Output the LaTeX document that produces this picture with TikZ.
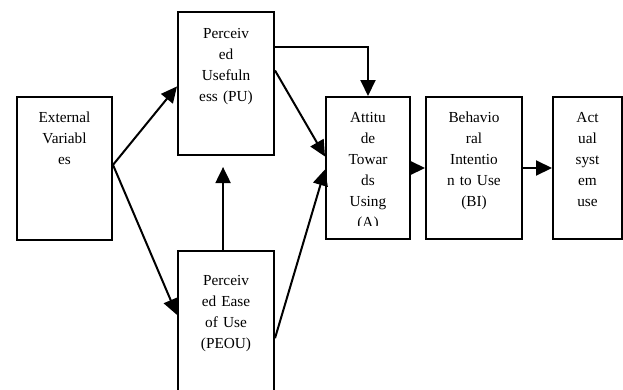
\documentclass[tikz,border=0pt]{standalone}
\usepackage{fontspec}
\setmainfont{Liberation Serif}
\usetikzlibrary{arrows.meta,calc}
\begin{document}
\begin{tikzpicture}[x=1pt,y=-1pt,
  box/.style={draw,line width=2pt,rectangle,inner sep=0pt},
  lbl/.style={anchor=base,align=center,text width=92pt,inner sep=0pt,font=\fontsize{15.3}{21}\selectfont},
  arr/.style={line width=2pt,-{Triangle[length=16pt,width=15pt]}}]
\useasboundingbox (0,0) rectangle (623,389);
\clip (0,0) rectangle (623,389);
% boxes
\node[box,minimum width=95pt,minimum height=143pt] (ext) at (64.5,168.5) {};
\node[box,minimum width=96pt,minimum height=143pt] (pu) at (226,83.5) {};
\node[box,minimum width=96pt,minimum height=149pt] (peou) at (226,325.5) {};
\node[box,minimum width=84pt,minimum height=142pt] (att) at (368,168) {};
\node[box,minimum width=96pt,minimum height=142pt] (bi) at (474,168) {};
\node[box,minimum width=69pt,minimum height=142pt] (act) at (587.5,168) {};
% texts
\node[lbl] (extT) at (64.5,122) {External\\Variabl\\es};
\node[lbl] (puT) at (226,38) {Perceiv\\ed\\Usefuln\\ess (PU)};
\node[lbl] (peouT) at (226,285) {Perceiv\\ed Ease\\of Use\\(PEOU)};
\begin{scope}
\clip (326,97) rectangle (410,225);
\node[lbl] (attT) at (368,122) {Attitu\\de\\Towar\\ds\\Using\\(A)};
\end{scope}
\node[lbl] (biT) at (474,122) {Behavio\\ral\\Intentio\\n to Use\\(BI)};
\node[lbl] (actT) at (587.5,122) {Act\\ual\\syst\\em\\use};
% connectors
\draw[arr] ($(ext.north east)!0.475!(ext.south east)$) -- ($(pu.north west)!0.52!(pu.south west)$);
\draw[arr] ($(ext.north east)!0.475!(ext.south east)$) -- ($(peou.north west)!0.43!(peou.south west)$);
\draw[arr] ($(pu.north east)!0.41!(pu.south east)$) -- ($(att.north west)!0.42!(att.south west)$);
\draw[arr] ($(peou.north east)!0.584!(peou.south east)$) -- ($(att.north west)!0.51!(att.south west)$);
\draw[arr] ($(pu.north east)!0.25!(pu.south east)$) -| (att.north);
\draw[arr,shorten >=11pt] ($(peou.north west)!0.47!(peou.north east)$) -- ($(pu.south west)!0.47!(pu.south east)$);
\draw[arr] (att.east) -- (bi.west);
\draw[arr] (bi.east) -- (act.west);
\end{tikzpicture}
\end{document}
